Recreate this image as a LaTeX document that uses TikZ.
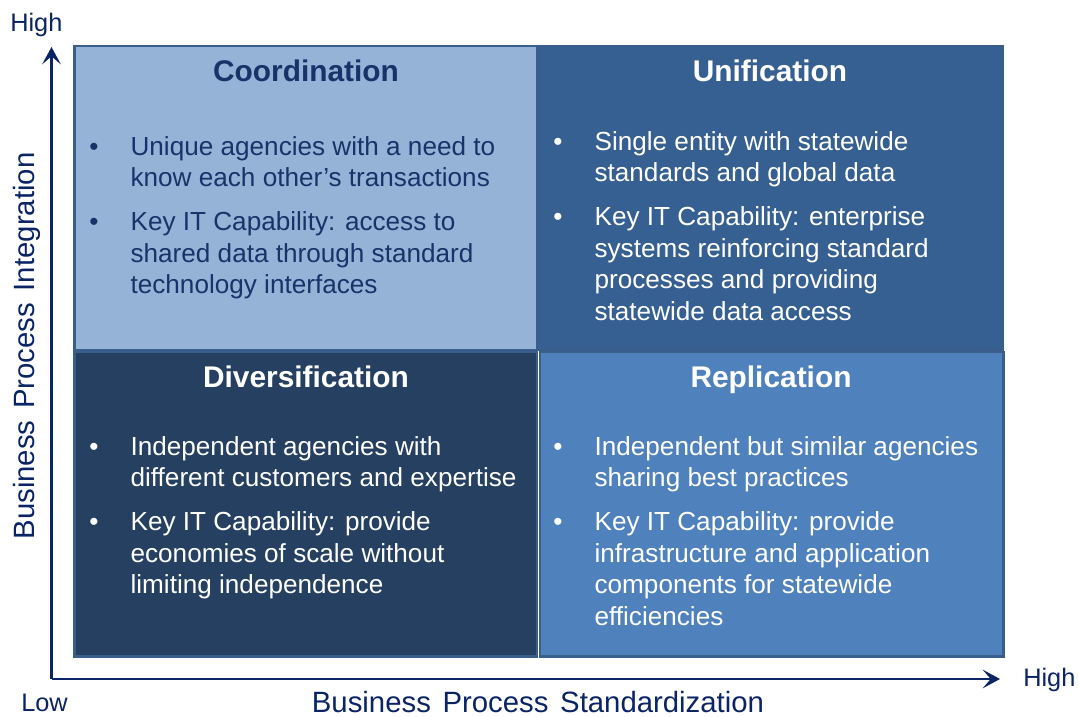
\documentclass[tikz,border=0pt]{standalone}
\usepackage{fontspec}
\setmainfont{Liberation Sans}
\usepackage{xcolor}
\usepackage{tikz}
\usetikzlibrary{positioning,calc,arrows.meta}

\definecolor{coordfill}{HTML}{95B3D7}
\definecolor{unifill}{HTML}{376092}
\definecolor{diverfill}{HTML}{254061}
\definecolor{replfill}{HTML}{4F81BD}
\definecolor{quadline}{HTML}{3A5E8C}
\definecolor{axisnavy}{HTML}{0A2466}
\definecolor{coordtext}{HTML}{17336A}

% one bullet with hanging lines
\newcommand{\qitem}[1]{\noindent\hangindent=31pt\hangafter=1\makebox[31pt][l]{\textbullet}#1\par}
\newcommand{\qgap}{\vskip 9.4pt}

\begin{document}
\begin{tikzpicture}[x=0.75pt,y=-0.75pt,
    quad/.style={draw=quadline, line width=2pt},
    qtitle/.style={inner sep=0, anchor=base, font=\fontsize{22.4pt}{25pt}\selectfont\bfseries},
    qbody/.style={inner sep=0, anchor=base west, font=\fontsize{19.6pt}{23.6pt}\selectfont},
    axislabel/.style={inner sep=0, text=axisnavy, font=\fontsize{19pt}{22pt}\selectfont},
    axisarrow/.style={draw=axisnavy, line width=1.6pt, -{Stealth[length=13pt,width=14pt,inset=6pt]}}]
    \useasboundingbox (0,0) rectangle (1079,717);

    % axes
    \coordinate (origin) at (51.5,679);
    \coordinate (ytip) at (51.5,47);
    \coordinate (xtip) at (1000,679);
    \draw[axisarrow] (origin) -- (ytip);
    \draw[axisarrow] (origin) -- (xtip);
    \node[axislabel, anchor=base west] (yhigh) at (10,32) {High};
    \node[axislabel, anchor=base west] (xlow) at (21,711) {Low};
    \node[axislabel, anchor=base west] (xhigh) at (1023,686) {High};
    \node[axislabel, anchor=base, font=\fontsize{22pt}{24pt}\selectfont] (xname) at (538,712)
        {Business\hspace{0.12em} Process\hspace{0.12em} Standardization};
    \node[axislabel, anchor=base, rotate=90, font=\fontsize{22pt}{24pt}\selectfont] (yname) at (35,346)
        {Business\hspace{0.12em} Process\hspace{0.12em} Integration};

    % Coordination
    \begin{scope}
        \draw[quad, fill=coordfill] (74.5,46) rectangle (537,350);
        \node[qtitle, text=coordtext] (coordtitle) at (306,82) {Coordination};
        \node[qbody, text=coordtext] (coordbody) at (89,155.5) {\vtop{\hsize=420pt
            \qitem{Unique agencies with a need to\\know each other’s transactions}\qgap
            \qitem{Key IT Capability: access to\\shared data through standard\\technology interfaces}}};
    \end{scope}

    % Unification
    \begin{scope}
        \draw[quad, fill=unifill] (537,46) rectangle (1002.5,350);
        \node[qtitle, text=white] (unititle) at (770,82) {Unification};
        \node[qbody, text=white] (unibody) at (553,150.5) {\vtop{\hsize=420pt
            \qitem{Single entity with statewide\\standards and global data}\qgap
            \qitem{Key IT Capability: enterprise\\systems reinforcing standard\\processes and providing\\statewide data access}}};
    \end{scope}

    % Diversification
    \begin{scope}
        \draw[quad, fill=diverfill] (74.5,352) rectangle (537,656.5);
        \node[qtitle, text=white] (divertitle) at (306,387) {Diversification};
        \node[qbody, text=white] (diverbody) at (89,455.5) {\vtop{\hsize=420pt
            \qitem{Independent agencies with\\different customers and expertise}\qgap
            \qitem{Key IT Capability: provide\\economies of scale without\\limiting independence}}};
    \end{scope}

    % Replication
    \begin{scope}
        \draw[quad, fill=replfill] (540,352) rectangle (1003.5,656.5);
        \node[qtitle, text=white] (repltitle) at (771,387) {Replication};
        \node[qbody, text=white] (replbody) at (553,455.5) {\vtop{\hsize=420pt
            \qitem{Independent but similar agencies\\sharing best practices}\qgap
            \qitem{Key IT Capability: provide\\infrastructure and application\\components for statewide\\efficiencies}}};
    \end{scope}
\end{tikzpicture}
\end{document}
